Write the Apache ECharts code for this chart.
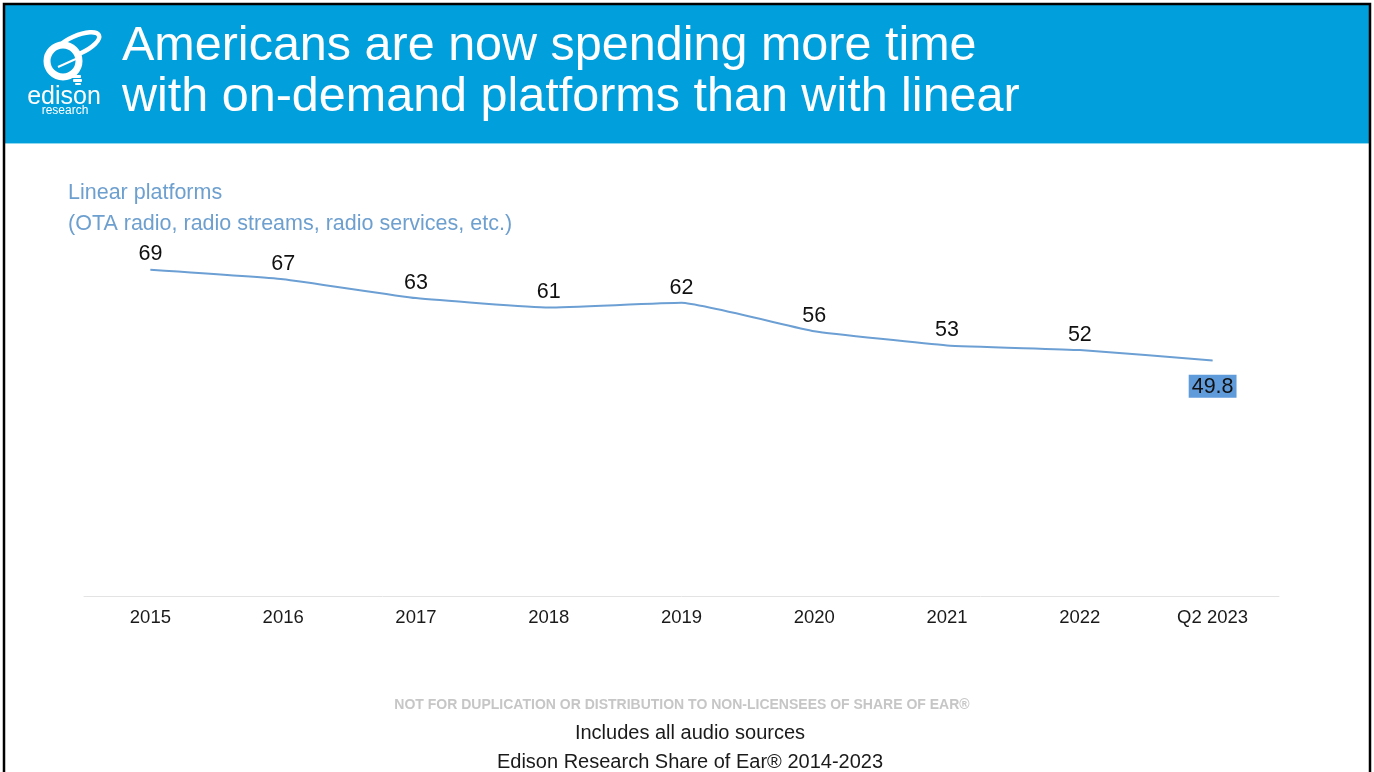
<!DOCTYPE html>
<html>
<head>
<meta charset="utf-8">
<script src="https://cdn.jsdelivr.net/npm/echarts@6/dist/echarts.min.js"></script>
<style>
  html, body { margin: 0; padding: 0; background: #fff; }
  #chart { width: 1374px; height: 772px; }
</style>
</head>
<body>
<div id="chart"></div>
<script>
// Share of listening time on linear platforms, by year
const categories = ['2015', '2016', '2017', '2018', '2019', '2020', '2021', '2022', 'Q2 2023'];
const linearShare = [69, 67, 63, 61, 62, 56, 53, 52, 49.8];

const titleLines = ['Americans are now spending more time', 'with on-demand platforms than with linear'];
const seriesTitle = ['Linear platforms', '(OTA radio, radio streams, radio services, etc.)'];
const disclaimer = 'NOT FOR DUPLICATION OR DISTRIBUTION TO NON-LICENSEES OF SHARE OF EAR\u00AE';
const notes = ['Includes all audio sources', 'Edison Research Share of Ear\u00AE 2014-2023'];

const FONT = '"Liberation Sans", Arial, sans-serif';
const BLUE = '#019fdc';
const LINE = '#6c9fd3';
const lastIdx = linearShare.length - 1;

const chart = echarts.init(document.getElementById('chart'), null, { renderer: 'canvas' });

chart.setOption({
  animation: false,
  backgroundColor: '#ffffff',
  grid: { left: 84, right: 95, top: 265, bottom: 176 },
  xAxis: {
    type: 'category',
    data: categories,
    boundaryGap: true,
    axisLine: { show: true, lineStyle: { color: '#e3e3e3', width: 1 } },
    axisTick: { show: false },
    axisLabel: { color: '#1a1a1a', fontFamily: FONT, fontSize: 18.5, margin: 12 }
  },
  yAxis: {
    type: 'value',
    min: 0,
    max: 70,
    show: false,
    splitLine: { show: false }
  },
  series: [{
    type: 'line',
    data: linearShare.map((v, i) => i === lastIdx ? {
      value: v,
      label: {
        position: 'bottom',
        distance: 14,
        backgroundColor: '#5f9bdb',
        padding: [1, 3, 0, 3]
      }
    } : v),
    smooth: 0.12,
    showSymbol: true,
    symbol: 'circle',
    symbolSize: 0.5,
    itemStyle: { color: LINE },
    lineStyle: { color: LINE, width: 2 },
    label: {
      show: true,
      position: 'top',
      distance: 4,
      color: '#111',
      fontFamily: FONT,
      fontSize: 21.5
    },
    emphasis: { disabled: true }
  }],
  graphic: [
    // header band
    { type: 'rect', x: 4, y: 4, shape: { width: 1366, height: 140 }, style: { fill: BLUE } },
    { type: 'rect', x: 4, y: 143, shape: { width: 1366, height: 1 }, style: { fill: '#8fd8ee' } },
    // slide frame
    { type: 'rect', shape: { x: 4, y: 4, width: 1366, height: 800 }, style: { fill: 'none', stroke: '#000', lineWidth: 2.5 }, z: 100 },
    // title
    { type: 'text', x: 122, y: 22, style: { text: titleLines[0], fill: '#fff', font: '48.5px ' + FONT } },
    { type: 'text', x: 122, y: 73, style: { text: titleLines[1], fill: '#fff', font: '48.5px ' + FONT } },
    // logo mark
    { type: 'group', children: [
      { type: 'ellipse', x: 77, y: 45, rotation: 0.42, shape: { cx: 0, cy: 0, rx: 24, ry: 9 }, style: { stroke: '#fff', lineWidth: 4.5, fill: 'none' } },
      { type: 'circle', shape: { cx: 63, cy: 61, r: 16 }, style: { stroke: '#fff', lineWidth: 7, fill: BLUE } },
      { type: 'line', shape: { x1: 58, y1: 67, x2: 78, y2: 58 }, style: { stroke: '#fff', lineWidth: 2 } },
      { type: 'rect', shape: { x: 71, y: 75, width: 10, height: 3, r: 1 }, style: { fill: '#fff' } },
      { type: 'rect', shape: { x: 73, y: 79, width: 9, height: 3, r: 1 }, style: { fill: '#fff' } },
      { type: 'rect', shape: { x: 75, y: 83, width: 6, height: 2, r: 1 }, style: { fill: '#fff' } },
      { type: 'text', style: { x: 64, y: 97, text: 'edison', fill: '#fff', font: '25px ' + FONT, align: 'center', verticalAlign: 'middle' } },
      { type: 'text', style: { x: 65, y: 111, text: 'research', fill: '#fff', font: '12px ' + FONT, align: 'center', verticalAlign: 'middle' } }
    ] },
    // series caption
    { type: 'text', x: 68, y: 182, style: { text: seriesTitle[0], fill: '#6d9fcf', font: '21.5px ' + FONT } },
    { type: 'text', x: 68, y: 213, style: { text: seriesTitle[1], fill: '#6d9fcf', font: '21.5px ' + FONT } },
    // footer
    { type: 'text', style: { x: 682, y: 705, text: disclaimer, fill: '#c6c6c6', fontSize: 14, fontWeight: 'bold', fontFamily: FONT, align: 'center', verticalAlign: 'middle' } },
    { type: 'text', style: { x: 690, y: 733, text: notes[0], fill: '#1a1a1a', font: '20px ' + FONT, align: 'center', verticalAlign: 'middle' } },
    { type: 'text', style: { x: 690, y: 762, text: notes[1], fill: '#1a1a1a', font: '20px ' + FONT, align: 'center', verticalAlign: 'middle' } }
  ]
});
</script>
</body>
</html>
